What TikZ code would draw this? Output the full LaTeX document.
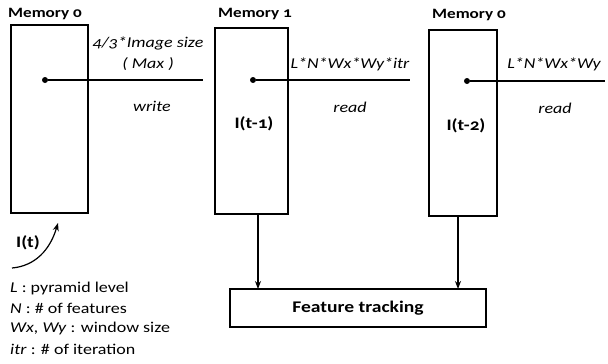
\documentclass[tikz,border=0pt]{standalone}
\usepackage{fontspec}
\setmainfont[Numbers=OldStyle,FakeStretch=1.2]{Carlito}
\usetikzlibrary{arrows.meta}
\begin{document}
\begin{tikzpicture}[x=1pt,y=-1pt,
  membox/.style={draw,line width=1.8pt,minimum width=#1,inner sep=0pt},
  memlabel/.style={font=\fontsize{14.3}{16}\selectfont\bfseries,inner sep=0pt},
  lbl/.style={font=\fontsize{15}{17}\selectfont\itshape,inner sep=0pt},
  imglbl/.style={font=\fontsize{16}{18}\selectfont\bfseries,inner sep=0pt},
  conn/.style={line width=1.4pt},
  arr/.style={line width=1.2pt,-{Stealth[length=8pt,width=6pt]}},
  dotn/.style={circle,fill,inner sep=0pt,minimum size=6pt},
  legend/.style={font=\fontsize{15}{17}\selectfont,anchor=west,inner sep=0pt}]
\useasboundingbox (0,0) rectangle (608,364);
% Memory 0 (left)
\node[membox=77pt,minimum height=188pt] (m0) at (49.5,119) {};
\node[memlabel] (m0l) at (45,14) {Memory 0};
\node[dotn] (d0) at (45,80) {};
\coordinate (e0) at (203,80);
\draw[conn] (d0) -- (e0);
\node[lbl] (t0a) at (148,43) {4/3*Image size};
\node[lbl] (t0b) at (148,64) {( Max )};
\node[lbl] (t0c) at (152,106) {write};
% Memory 1
\node[membox=73pt,minimum height=186pt] (m1) at (251.5,121) {};
\node[memlabel] (m1l) at (255,14) {Memory 1};
\node[dotn] (d1) at (253,80) {};
\coordinate (e1) at (410,80);
\draw[conn] (d1) -- (e1);
\node[lbl] (t1a) at (350,64) {L*N*Wx*Wy*itr};
\node[lbl] (t1b) at (350,107) {read};
\node[imglbl] (i1) at (254,124) {I(t-1)};
% Memory 0 (right)
\node[membox=68pt,minimum height=186pt] (m2) at (463,123) {};
\node[memlabel] (m2l) at (469,15) {Memory 0};
\node[dotn] (d2) at (467,81) {};
\coordinate (e2) at (605,81);
\draw[conn] (d2) -- (e2);
\node[lbl] (t2a) at (554,64) {L*N*Wx*Wy};
\node[lbl] (t2b) at (555,108) {read};
\node[imglbl] (i2) at (466,126) {I(t-2)};
% Feature tracking
\node[draw,line width=1.8pt,minimum width=256pt,minimum height=38pt,inner sep=0pt,
      font=\fontsize{16.3}{18}\selectfont\bfseries] (ft) at (358,308) {Feature tracking};
\coordinate (a1s) at (258,214);
\coordinate (a1e) at (258,289);
\coordinate (a2s) at (458,216);
\coordinate (a2e) at (458,289);
\draw[arr] (a1s) -- (a1e);
\draw[arr] (a2s) -- (a2e);
% I(t)
\node[imglbl] (it) at (28,243) {I(t)};
\coordinate (c0) at (12,268);
\coordinate (c1) at (58,223);
\draw[arr] (c0) .. controls (35,266) and (50,250) .. (c1);
% legend
\node[legend] (l1) at (10,288) {\textit{L} : pyramid level};
\node[legend] (l2) at (10,308) {\textit{N} : \# of features};
\node[legend] (l3) at (10,328) {\textit{Wx, Wy} : window size};
\node[legend] (l4) at (10,349) {\textit{itr} : \# of iteration};
\end{tikzpicture}
\end{document}
